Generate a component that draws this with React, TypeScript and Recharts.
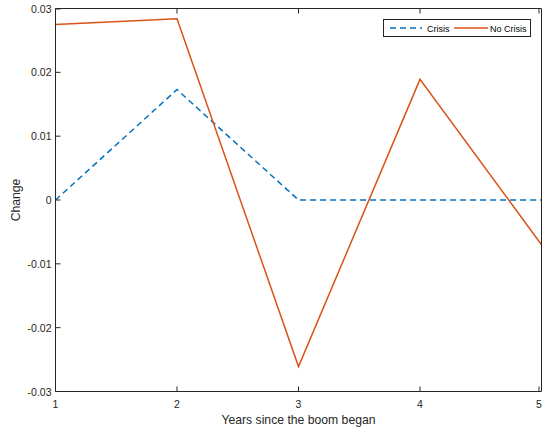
import React from "react";
import { LineChart, Line, XAxis, YAxis } from "recharts";

const years = [1, 2, 3, 4, 5];
const crisis = [0, 0.0173, 0, 0, 0];
const noCrisis = [0.0275, 0.0284, -0.0261, 0.0189, -0.007];
const xTicks = [1, 2, 3, 4, 5];
const yTicks = [-0.03, -0.02, -0.01, 0, 0.01, 0.02, 0.03];

const data = years.map((x, i) => ({ x, crisis: crisis[i], noCrisis: noCrisis[i] }));

const FONT = "'Liberation Sans', Arial, Helvetica, sans-serif";
const INK = "#262626";
const BLUE = "#0072BD";
const ORANGE = "#D95319";

const BottomTick = (p: any) => (
  <g>
    <line x1={p.x} x2={p.x} y1={p.y} y2={p.y - 5} stroke={INK} strokeWidth={1} />
    <text x={p.x} y={p.y + 16} textAnchor="middle" fontSize={10.5} fill={INK} fontFamily={FONT}>
      {p.payload.value}
    </text>
  </g>
);
const TopTick = (p: any) => (
  <line x1={p.x} x2={p.x} y1={p.y} y2={p.y + 5} stroke={INK} strokeWidth={1} />
);
const LeftTick = (p: any) => (
  <g>
    <line x1={p.x} x2={p.x + 5} y1={p.y} y2={p.y} stroke={INK} strokeWidth={1} />
    <text x={p.x - 4} y={p.y + 4} textAnchor="end" fontSize={10.5} fill={INK} fontFamily={FONT}>
      {String(p.payload.value)}
    </text>
  </g>
);
const RightTick = (p: any) => (
  <line x1={p.x} x2={p.x - 5} y1={p.y} y2={p.y} stroke={INK} strokeWidth={1} />
);

const LegendBox = () => (
  <svg width={148} height={18} style={{ display: "block" }}>
    <rect x={0.5} y={0.5} width={147} height={17} fill="#fff" stroke={INK} strokeWidth={1} />
    <line x1={7} x2={39} y1={9} y2={9} stroke={BLUE} strokeWidth={1.5} strokeDasharray="6 4" />
    <text x={44} y={12.5} fontSize={9} fill="#000" fontFamily={FONT}>Crisis</text>
    <line x1={71} x2={105} y1={9} y2={9} stroke={ORANGE} strokeWidth={1.5} />
    <text x={107} y={12.5} fontSize={9} fill="#000" fontFamily={FONT}>No Crisis</text>
  </svg>
);

export default function App() {
  return (
    <div style={{ position: "absolute", left: 0, top: 0, width: 543, height: 431, background: "#fff" }}>
      <LineChart width={543} height={431} data={data} margin={{ top: 7.5, right: 0.5, bottom: 38.5, left: 54.5 }}>
        <XAxis
          xAxisId="b"
          dataKey="x"
          type="number"
          domain={[1, 5]}
          ticks={xTicks}
          height={1}
          tickSize={0}
          tickMargin={0}
          tickLine={false}
          tick={<BottomTick />}
          axisLine={{ stroke: INK }}
          label={{
            content: (props: any) => {
              const vb = props.viewBox || {};
              return (
                <text x={vb.x + vb.width / 2} y={vb.y + 32} textAnchor="middle" fontSize={12.2} fill={INK} fontFamily={FONT}>
                  Years since the boom began
                </text>
              );
            },
          }}
        />
        <XAxis
          xAxisId="t"
          orientation="top"
          dataKey="x"
          type="number"
          domain={[1, 5]}
          ticks={xTicks}
          height={1}
          tickSize={0}
          tickMargin={0}
          tickLine={false}
          tick={<TopTick />}
          axisLine={{ stroke: INK }}
        />
        <YAxis
          yAxisId="l"
          type="number"
          domain={[-0.03, 0.03]}
          ticks={yTicks}
          width={1}
          tickSize={0}
          tickMargin={0}
          tickLine={false}
          tick={<LeftTick />}
          axisLine={{ stroke: INK }}
          label={{
            content: (props: any) => {
              const vb = props.viewBox || {};
              const cx = 19.5;
              const cy = vb.y + vb.height / 2;
              return (
                <text x={cx} y={cy} textAnchor="middle" fontSize={12.2} fill={INK} fontFamily={FONT} transform={`rotate(-90 ${cx} ${cy})`}>
                  Change
                </text>
              );
            },
          }}
        />
        <YAxis
          yAxisId="r"
          orientation="right"
          type="number"
          domain={[-0.03, 0.03]}
          ticks={yTicks}
          width={1}
          tickSize={0}
          tickMargin={0}
          tickLine={false}
          tick={<RightTick />}
          axisLine={{ stroke: INK }}
        />
        <Line
          xAxisId="b"
          yAxisId="l"
          type="linear"
          dataKey="crisis"
          stroke={BLUE}
          strokeWidth={1.5}
          strokeDasharray="6 4"
          dot={false}
          isAnimationActive={false}
        />
        <Line
          xAxisId="b"
          yAxisId="l"
          type="linear"
          dataKey="noCrisis"
          stroke={ORANGE}
          strokeWidth={1.5}
          dot={false}
          isAnimationActive={false}
        />
      </LineChart>
      <div style={{ position: "absolute", left: 383, top: 19 }}>
        <LegendBox />
      </div>
    </div>
  );
}
